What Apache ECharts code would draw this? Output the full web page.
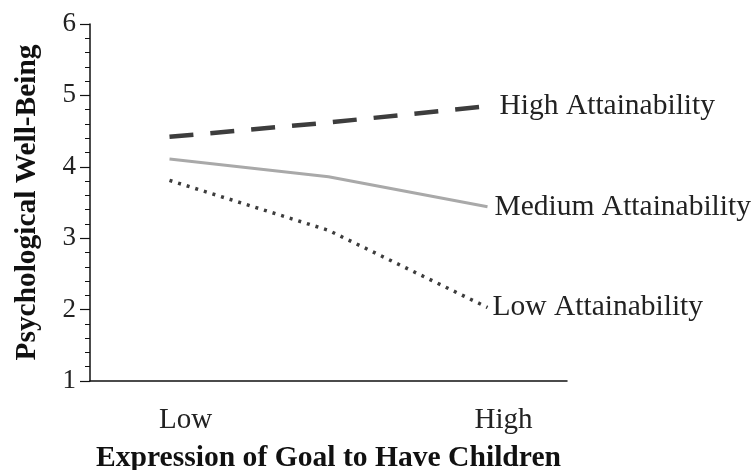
<!DOCTYPE html>
<html>
<head>
<meta charset="utf-8">
<script src="https://cdn.jsdelivr.net/npm/echarts@6/dist/echarts.min.js"></script>
<style>html,body{margin:0;padding:0;background:#fff;}#c{width:754px;height:470px;}</style>
</head>
<body>
<div id="c"></div>
<script>
var categories = ['Low', '', 'High'];
var seriesNames = ['High Attainability', 'Medium Attainability', 'Low Attainability'];
var highValues = [4.42, 4.62, 4.85];
var mediumValues = [4.11, 3.86, 3.44];
var lowValues = [3.81, 3.11, 2.03];
var yTicks = [1, 2, 3, 4, 5, 6];

var chart = echarts.init(document.getElementById('c'));
var font = 'Liberation Serif, Times New Roman, serif';
chart.setOption({
  animation: false,
  backgroundColor: '#fff',
  grid: { left: 90, right: 187, top: 24, bottom: 89, containLabel: false, outerBoundsMode: 'none' },
  xAxis: {
    type: 'category',
    data: categories,
    boundaryGap: true,
    name: 'Expression of Goal to Have Children',
    nameLocation: 'middle',
    nameGap: 62,
    nameTextStyle: { fontFamily: font, fontWeight: 'bold', fontSize: 29.6, color: '#111' },
    axisLine: { lineStyle: { color: '#111', width: 1.5 } },
    axisTick: { show: false },
    axisLabel: { fontFamily: font, fontSize: 29, color: '#222', margin: 25, padding: [0, 0, 0, 32], interval: 0 },
    splitLine: { show: false }
  },
  yAxis: {
    type: 'value',
    min: yTicks[0],
    max: yTicks[yTicks.length - 1],
    interval: 1,
    name: 'Psychological Well-Being',
    nameLocation: 'middle',
    nameGap: 48,
    nameTextStyle: { fontFamily: font, fontWeight: 'bold', fontSize: 29.4, color: '#111' },
    axisLine: { show: true, lineStyle: { color: '#111', width: 1.5 } },
    axisTick: { show: true, length: 10, lineStyle: { color: '#111', width: 1.2 } },
    minorTick: { show: true, splitNumber: 5, length: 5, lineStyle: { color: '#111', width: 1 } },
    axisLabel: { fontFamily: font, fontSize: 27, color: '#222', margin: 14 },
    splitLine: { show: false }
  },
  series: [
    {
      name: seriesNames[0], type: 'line', data: highValues, symbol: 'none',
      lineStyle: { color: '#3d3d3d', width: 4.5, type: [24, 17] },
      endLabel: { show: true, formatter: '{a}', distance: 12, fontFamily: font, fontSize: 29.5, color: '#222' }
    },
    {
      name: seriesNames[1], type: 'line', data: mediumValues, symbol: 'none',
      lineStyle: { color: '#a9a9a9', width: 3 },
      endLabel: { show: true, formatter: '{a}', distance: 7, fontFamily: font, fontSize: 29.5, color: '#222' }
    },
    {
      name: seriesNames[2], type: 'line', data: lowValues, symbol: 'none',
      lineStyle: { color: '#3d3d3d', width: 3.5, type: [3, 6] },
      endLabel: { show: true, formatter: '{a}', distance: 5, fontFamily: font, fontSize: 29.5, color: '#222' }
    }
  ]
});
</script>
</body>
</html>
